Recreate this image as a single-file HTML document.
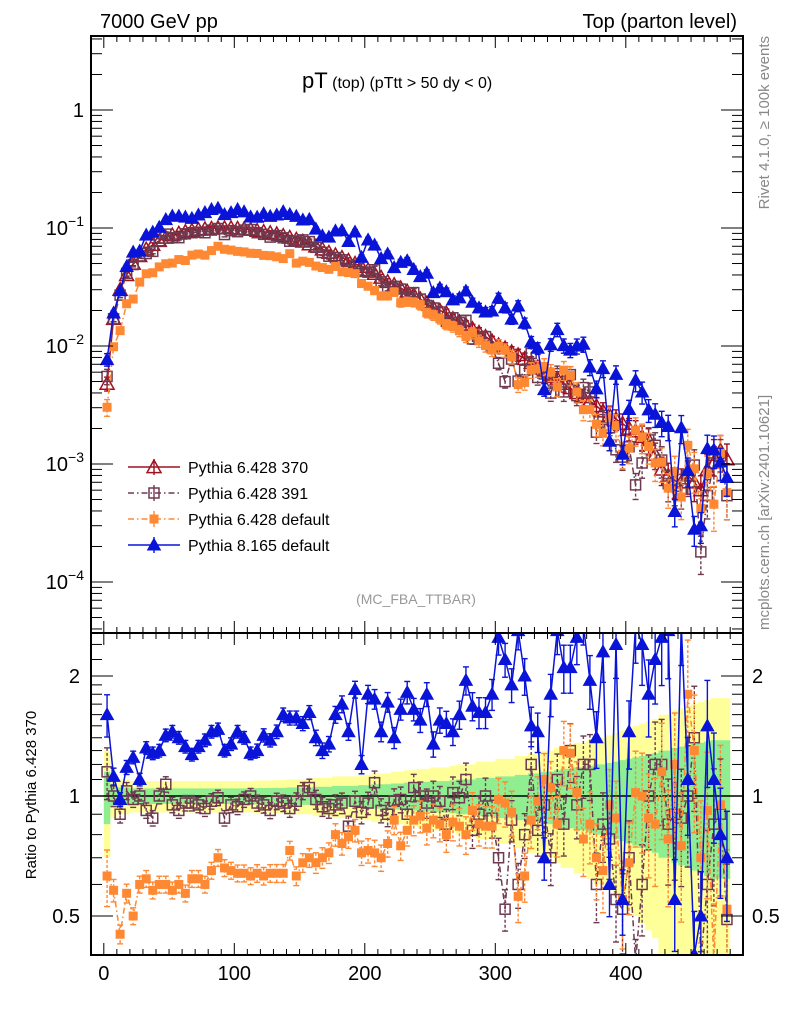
<!DOCTYPE html>
<html><head><meta charset="utf-8"><style>
html,body{margin:0;padding:0;background:#fff;width:786px;height:1024px;overflow:hidden;}
svg{display:block;font-family:"Liberation Sans",sans-serif;}
</style></head><body>
<svg id="chart" width="786" height="1024" viewBox="0 0 786 1024" xmlns="http://www.w3.org/2000/svg">
<defs>
<clipPath id="cm"><rect x="91" y="36" width="652" height="597"/></clipPath>
<clipPath id="cr"><rect x="91" y="633" width="652" height="322"/></clipPath>
</defs>
<text x="100" y="28" font-size="20">7000 GeV pp</text>
<text x="737" y="28" font-size="20" text-anchor="end">Top (parton level)</text>
<text x="302" y="88" font-size="16"><tspan font-size="22">pT</tspan> (top)  (pTtt &gt; 50 dy &lt; 0)</text>
<text transform="translate(769,36) rotate(-90)" text-anchor="end" font-size="15" fill="#888">Rivet 4.1.0, ≥ 100k events</text>
<text transform="translate(769,630) rotate(-90)" font-size="15" fill="#888">mcplots.cern.ch [arXiv:2401.10621]</text>
<text x="416" y="604" text-anchor="middle" font-size="14" fill="#999">(MC_FBA_TTBAR)</text>
<text transform="translate(36,795) rotate(-90)" text-anchor="middle" font-size="15">Ratio to Pythia 6.428 370</text>
<g id="bands" clip-path="url(#cr)"></g>
<g id="marksR" clip-path="url(#cr)"></g>
<g id="marksM" clip-path="url(#cm)"></g>
<g id="axes"></g>
<g id="legend"></g>
</svg>
<script>
const NS="http://www.w3.org/2000/svg";
// ---- data ----
const binCenters=[];for(let i=0;i<96;i++)binCenters.push(2.5+5*i);
const red370=[0.0048,0.017,0.03,0.04,0.05,0.058,0.066,0.072,0.078,
0.083,0.087,0.09,0.093,0.095,0.097,0.098,0.099,0.1,0.1,
0.1,0.099,0.098,0.097,0.095,0.093,0.091,0.089,0.086,0.083,
0.08,0.077,0.073,0.07,0.066,0.062,0.059,0.056,0.053,0.05,
0.047,0.044,0.041,0.038,0.035,0.033,0.031,0.029,0.027,0.025,
0.023,0.021,0.02,0.019,0.017,0.016,0.015,0.014,0.013,0.012,
0.011,0.0102,0.0096,0.0089,0.0084,0.0078,0.0072,0.0066,0.0061,0.0057,
0.0053,0.0048,0.0044,0.004,0.0037,0.0034,0.0031,0.0028,0.0026,0.0024,
0.0022,0.002,0.0019,0.0017,0.0016,0.0012,0.0009,0.0008,0.00072,0.0007,
0.0008,0.0007,0.0006,0.0009,0.0012,0.0013,0.0011];
const relErr=[0.15,0.06,0.05,0.05,0.045,0.045,0.045,0.045,0.045,0.045,
0.045,0.045,0.045,0.045,0.045,0.045,0.045,0.045,0.045,0.045,
0.045,0.045,0.045,0.047,0.047,0.047,0.048,0.048,0.05,0.05,
0.05,0.05,0.055,0.055,0.055,0.06,0.06,0.06,0.06,0.065,
0.065,0.07,0.07,0.07,0.075,0.075,0.08,0.08,0.085,0.085,
0.09,0.09,0.09,0.095,0.1,0.1,0.1,0.11,0.11,0.11,
0.12,0.12,0.12,0.13,0.13,0.14,0.14,0.15,0.15,0.16,
0.17,0.17,0.18,0.18,0.19,0.2,0.2,0.21,0.22,0.23,
0.24,0.25,0.26,0.27,0.28,0.3,0.3,0.32,0.33,0.34,
0.35,0.36,0.37,0.38,0.38,0.38];
const ratio391=[1.15,1.0,0.9,1.03,0.98,1.0,0.92,0.88,1.0,1.07,
0.95,0.92,0.96,0.96,0.95,0.93,0.97,0.99,0.88,0.95,
0.94,0.98,1.0,0.96,0.95,0.92,0.97,0.96,0.93,0.97,
1.03,1.05,0.98,0.94,0.93,0.95,0.96,0.84,0.97,0.91,
0.96,1.08,0.92,0.9,0.97,0.98,0.9,1.05,1.0,0.96,
1.0,0.97,0.85,1.02,0.99,1.1,0.82,0.9,1.0,0.88,
0.7,0.52,0.87,0.6,0.8,1.2,0.82,0.95,0.7,1.1,
0.85,1.3,0.95,1.2,1.2,0.6,0.85,0.78,0.55,0.52,
0.7,0.35,0.6,1.0,1.2,1.2,0.85,0.9,0.88,1.0,
1.4,0.3,0.6,0.85,0.9,0.49];
const ratioDef=[0.63,0.58,0.45,0.57,0.5,0.6,0.62,0.58,0.6,0.6,
0.58,0.6,0.57,0.62,0.62,0.6,0.65,0.7,0.66,0.65,
0.64,0.64,0.63,0.64,0.63,0.64,0.64,0.64,0.73,0.63,
0.68,0.7,0.68,0.7,0.72,0.8,0.76,0.79,0.82,0.72,
0.73,0.72,0.7,0.76,0.87,0.75,0.82,0.87,0.89,0.83,
0.87,0.85,0.8,0.86,0.84,0.8,0.92,0.85,0.84,0.84,
0.98,0.96,0.91,0.56,0.63,0.87,0.97,1.1,1.05,0.85,
1.3,1.28,1.02,0.78,0.85,0.7,0.65,0.95,0.88,0.55,
0.68,1.02,1.0,0.88,0.85,1.15,0.78,1.2,0.75,1.8,
1.3,0.7,0.92,0.38,0.95,0.52];
const ratioP8=[1.6,1.12,0.98,1.18,1.25,1.1,1.32,1.28,1.3,1.42,
1.45,1.4,1.33,1.27,1.33,1.38,1.45,1.47,1.3,1.35,
1.45,1.4,1.28,1.3,1.42,1.38,1.45,1.6,1.57,1.57,
1.52,1.62,1.4,1.3,1.35,1.6,1.7,1.45,1.85,1.2,
1.8,1.75,1.45,1.72,1.4,1.65,1.82,1.65,1.55,1.8,
1.35,1.55,1.52,1.45,1.6,1.95,1.68,1.62,1.62,1.8,
2.5,2.2,1.9,2.6,2.0,1.5,1.45,0.7,1.8,2.6,
2.1,2.1,2.5,2.8,1.95,1.4,2.3,0.6,2.4,0.55,
1.45,2.7,2.4,1.8,2.2,2.5,2.6,0.55,2.9,1.1,
0.4,0.5,1.5,1.1,0.8,0.7];
const xTicks=[0,100,200,300,400];
const mainTicks=[0,-1,-2,-3,-4];
const ratioTicks=[0.5,1,2];
// ---- scales ----
const clamp=(v,a,b)=>Math.max(a,Math.min(b,v));
const X=v=>103.8+v*1.305;
const Y=v=>clamp(110-118*Math.log10(v),30,640);
const R=r=>clamp(796-120*Math.log2(r),625,962);
function el(tag,attrs,parent){const e=document.createElementNS(NS,tag);for(const k in attrs)e.setAttribute(k,attrs[k]);parent.appendChild(e);return e;}
const gM=document.getElementById('marksM'),gR=document.getElementById('marksR'),gB=document.getElementById('bands'),gA=document.getElementById('axes'),gL=document.getElementById('legend');
function band(mult,color,name){let top='',bot='';
 for(let i=0;i<96;i++){const x0=X(binCenters[i]-2.5),x1=X(binCenters[i]+2.5);
  const hi=R(1+mult*relErr[i]),lo=R(Math.max(0.05,1-mult*relErr[i]));
  top+=(i?'L':'M')+x0+' '+hi+'L'+x1+' '+hi;bot='L'+x1+' '+lo+'L'+x0+' '+lo+bot;}
 const p=el('path',{d:top+bot+'Z',fill:color,stroke:'none'},gB);
 
 }
band(2,'#ffff99','yellow-uncertainty-band');
band(1,'#90ee90','green-uncertainty-band');
el('line',{x1:91,x2:743,y1:R(1),y2:R(1),stroke:'#000','stroke-width':1.5},gB);
function marker(g,type,x,y,color){
 if(type==='tri'||type==='ftri'){const s=type==='tri'?7:6;
  el('polygon',{points:`${x},${y-s} ${x-s},${y+s*0.8} ${x+s},${y+s*0.8}`,fill:type==='tri'?'none':color,stroke:color,'stroke-width':1.5},g);}
 else if(type==='sq'){el('rect',{x:x-5,y:y-5,width:10,height:10,fill:'none',stroke:color,'stroke-width':1.5},g);}
 else {el('rect',{x:x-4.5,y:y-4.5,width:9,height:9,fill:color},g);}
}
const series=[
 {name:'pythia-6428-370',color:'#a01020',type:'tri',dash:'',ratio:null,ef:1},
 {name:'pythia-6428-391',color:'#6e3a50',type:'sq',dash:'6 3 1.5 3',ratio:ratio391,ef:1.1},
 {name:'pythia-6428-default',color:'#ff8833',type:'fsq',dash:'6 3 1.5 3',ratio:ratioDef,ef:1.2},
 {name:'pythia-8165-default',color:'#0a14d8',type:'ftri',dash:'',ratio:ratioP8,ef:0.9}];
function drawSeries(s,g,isRatio){
 const grp=el('g',{},g);
 
 
 let d='';
 for(let i=0;i<96;i++){
  const rr=s.ratio?s.ratio[i]:1;
  const v=isRatio?rr:red370[i]*rr;
  const e=relErr[i]*s.ef*v*0.9;
  const F=isRatio?R:Y;
  const x=X(binCenters[i]),y=F(v);
  d+=(i?'L':'M')+x+' '+y;
  if(isRatio&&!s.ratio)continue;
  const y1=F(v+e),y2=F(Math.max(v-e,v*0.02));
  el('line',{x1:x,x2:x,y1:y1,y2:y2,stroke:s.color,'stroke-width':1.4,'stroke-dasharray':s.dash?'3 2':''},grp);
  el('line',{x1:x-3,x2:x+3,y1:y1,y2:y1,stroke:s.color,'stroke-width':1.4},grp);
  el('line',{x1:x-3,x2:x+3,y1:y2,y2:y2,stroke:s.color,'stroke-width':1.4},grp);
 }
 el('path',{d:d,fill:'none',stroke:s.color,'stroke-width':1.5,'stroke-dasharray':s.dash},grp);
 if(isRatio&&!s.ratio)return;
 for(let i=0;i<96;i++){const rr=s.ratio?s.ratio[i]:1;const v=isRatio?rr:red370[i]*rr;
  marker(grp,s.type,X(binCenters[i]),(isRatio?R:Y)(v),s.color);}
}
series.forEach(s=>drawSeries(s,gM,false));
series.forEach(s=>{if(s.ratio)drawSeries(s,gR,true);});
el('rect',{x:91,y:36,width:652,height:597,fill:'none',stroke:'#000','stroke-width':2},gA);
el('rect',{x:91,y:633,width:652,height:322,fill:'none',stroke:'#000','stroke-width':2},gA);
for(let v=-10;v<=490;v+=10){const major=v%100===0;const L=major?12:6;const x=X(v);
 [[36,1],[633,-1],[633,1],[955,-1]].forEach(([y,dir])=>el('line',{x1:x,x2:x,y1:y,y2:y+dir*L,stroke:'#000','stroke-width':1},gA));}
xTicks.forEach(v=>{const t=el('text',{x:X(v),y:980,'text-anchor':'middle','font-size':20},gA);t.textContent=v;
 
 });
for(let d=-5;d<=0;d++){for(let m=1;m<10;m++){const yy=110-118*Math.log10(m*Math.pow(10,d));if(yy<36||yy>633)continue;const L=m===1?22:11;
 el('line',{x1:91,x2:91+L,y1:yy,y2:yy,stroke:'#000'},gA);el('line',{x1:743,x2:743-L,y1:yy,y2:yy,stroke:'#000'},gA);}}
mainTicks.forEach(d=>{const y=Y(Math.pow(10,d))+7;const t=el('text',{x:84,y:y,'text-anchor':'end','font-size':20},gA);
 
 
 if(d===0)t.textContent='1';else{t.innerHTML='10<tspan dy="-9" font-size="14">'+(d===-1?'−1':'−'+(-d))+'</tspan>';}});
[0.5,0.6,0.7,0.8,0.9,1,1.1,1.2,1.3,1.4,1.5,1.6,1.7,1.8,1.9,2,2.2,2.4].forEach(r=>{const y=796-120*Math.log2(r);if(y<633||y>955)return;const L=(r===0.5||r===1||r===2)?22:11;
 el('line',{x1:91,x2:91+L,y1:y,y2:y,stroke:'#000'},gA);el('line',{x1:743,x2:743-L,y1:y,y2:y,stroke:'#000'},gA);});
ratioTicks.forEach(r=>{[[80,'end'],[752,'start']].forEach(([x,a])=>{const t=el('text',{x:x,y:R(r)+7,'text-anchor':a,'font-size':20},gA);t.textContent=r;
 
 });});
const labels=['Pythia 6.428 370','Pythia 6.428 391','Pythia 6.428 default','Pythia 8.165 default'];
series.forEach((s,i)=>{const y=467+26*i;const g=el('g',{},gL);
 
 
 el('line',{x1:128,x2:180,y1:y,y2:y,stroke:s.color,'stroke-width':1.5,'stroke-dasharray':s.dash},g);
 el('line',{x1:154,x2:154,y1:y-8,y2:y+8,stroke:s.color,'stroke-width':1.4},g);
 marker(g,s.type,154,y,s.color);
 const t=el('text',{x:188,y:y+6,'font-size':16},g);t.textContent=labels[i];});
</script>
</body></html>
